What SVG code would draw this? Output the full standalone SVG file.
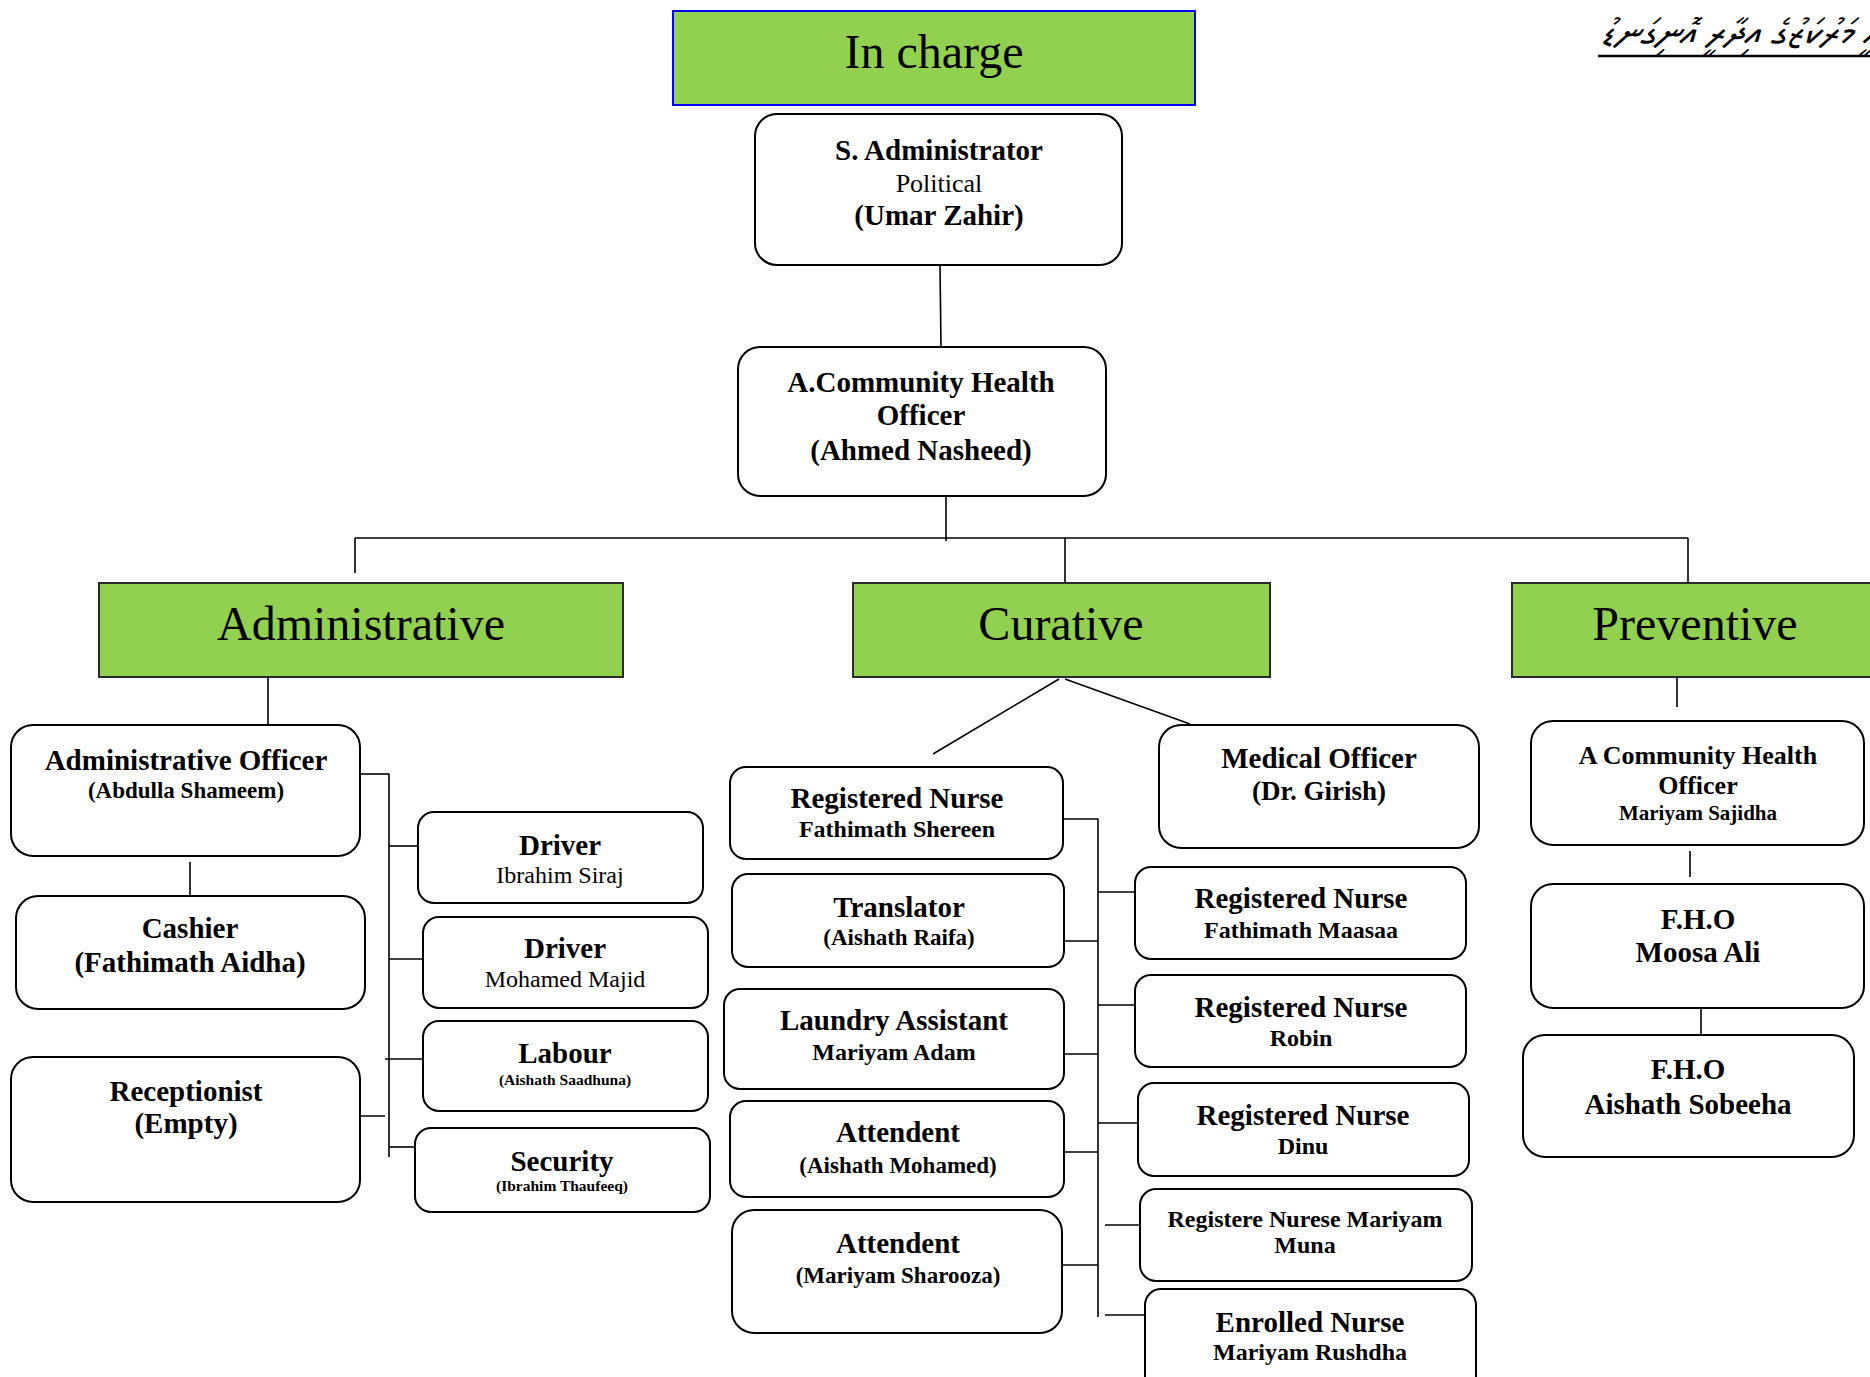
<svg xmlns="http://www.w3.org/2000/svg" width="1870" height="1377" viewBox="0 0 1870 1377">
<style>
.box{fill:#fff;stroke:#000;stroke-width:2}
.hdr{fill:#92D050;stroke:#2a2a2a;stroke-width:2}
.top{fill:#92D050;stroke:#0000FF;stroke-width:2}
.c{stroke:#000;stroke-width:1.6;fill:none}
text{font-family:"Liberation Serif","Times New Roman",serif;text-anchor:middle;fill:#000}
.h{font-size:48px}
.b29{font-size:29px;font-weight:bold}
.b27{font-size:27px;font-weight:bold}
.b26{font-size:26px;font-weight:bold}
.b24{font-size:24px;font-weight:bold}
.b23{font-size:23px;font-weight:bold}
.b21{font-size:21px;font-weight:bold}
.b15{font-size:15.5px;font-weight:bold}
.r26{font-size:26px}
.r24{font-size:24px}
.thaana{font-family:"Noto Sans Thaana","MV Boli","DejaVu Sans",sans-serif;font-size:38px;font-style:italic;text-anchor:start}
</style>

<g id="title">
<text class="thaana" x="1600" y="45">ސިއްޙީ މަރުކަޒުގެ އިދާރީ އޮނިގަނޑު</text>
<line x1="1598" y1="56" x2="1870" y2="56" stroke="#000" stroke-width="2.5"/>
</g>

<g id="connectors">
<line class="c" x1="940" y1="265" x2="941" y2="347"/>
<line class="c" x1="946" y1="496" x2="946" y2="541"/>
<line class="c" x1="355" y1="538" x2="1688" y2="538"/>
<line class="c" x1="355" y1="538" x2="355" y2="573"/>
<line class="c" x1="1065" y1="538" x2="1065" y2="583"/>
<line class="c" x1="1688" y1="538" x2="1688" y2="583"/>
<line class="c" x1="268" y1="677" x2="268" y2="725"/>
<line class="c" x1="190" y1="862" x2="190" y2="896"/>
<line class="c" x1="360" y1="774" x2="389" y2="774"/>
<line class="c" x1="389" y1="774" x2="389" y2="1157"/>
<line class="c" x1="389" y1="846" x2="418" y2="846"/>
<line class="c" x1="389" y1="959" x2="423" y2="959"/>
<line class="c" x1="385" y1="1059" x2="423" y2="1059"/>
<line class="c" x1="352" y1="1116" x2="385" y2="1116"/>
<line class="c" x1="389" y1="1147" x2="415" y2="1147"/>
<line class="c" x1="1059" y1="679" x2="933" y2="754"/>
<line class="c" x1="1065" y1="679" x2="1190" y2="724"/>
<line class="c" x1="1063" y1="819" x2="1098" y2="819"/>
<line class="c" x1="1098" y1="819" x2="1098" y2="1317"/>
<line class="c" x1="1064" y1="941" x2="1098" y2="941"/>
<line class="c" x1="1064" y1="1054" x2="1098" y2="1054"/>
<line class="c" x1="1064" y1="1152" x2="1098" y2="1152"/>
<line class="c" x1="1062" y1="1265" x2="1098" y2="1265"/>
<line class="c" x1="1098" y1="892" x2="1135" y2="892"/>
<line class="c" x1="1098" y1="1005" x2="1135" y2="1005"/>
<line class="c" x1="1098" y1="1123" x2="1138" y2="1123"/>
<line class="c" x1="1105" y1="1225" x2="1140" y2="1225"/>
<line class="c" x1="1105" y1="1315" x2="1145" y2="1315"/>
<line class="c" x1="1677" y1="677" x2="1677" y2="707"/>
<line class="c" x1="1690" y1="851" x2="1690" y2="877"/>
<line class="c" x1="1701" y1="1003" x2="1701" y2="1034"/>
</g>

<g id="in-charge">
<rect class="top" x="673" y="11" width="522" height="94"/>
<text class="h" x="934" y="68">In charge</text>
</g>

<g id="s-administrator">
<rect class="box" x="755" y="114" width="367" height="151" rx="22"/>
<text class="b29" x="939" y="160">S. Administrator</text>
<text class="r26" x="939" y="192">Political</text>
<text class="b29" x="939" y="225">(Umar Zahir)</text>
</g>

<g id="a-cho">
<rect class="box" x="738" y="347" width="368" height="149" rx="22"/>
<text class="b29" x="921" y="392">A.Community Health</text>
<text class="b29" x="921" y="425">Officer</text>
<text class="b29" x="921" y="460">(Ahmed Nasheed)</text>
</g>

<g id="administrative">
<rect class="hdr" x="99" y="583" width="524" height="94"/>
<text class="h" x="361" y="640">Administrative</text>
</g>

<g id="curative">
<rect class="hdr" x="853" y="583" width="417" height="94"/>
<text class="h" x="1061" y="640">Curative</text>
</g>

<g id="preventive">
<rect class="hdr" x="1512" y="583" width="370" height="94"/>
<text class="h" x="1695" y="640">Preventive</text>
</g>

<g id="admin-officer">
<rect class="box" x="11" y="725" width="349" height="131" rx="22"/>
<text class="b29" x="186" y="770">Administrative Officer</text>
<text class="b23" x="186" y="798">(Abdulla Shameem)</text>
</g>

<g id="cashier">
<rect class="box" x="16" y="896" width="349" height="113" rx="22"/>
<text class="b29" x="190" y="938">Cashier</text>
<text class="b29" x="190" y="972">(Fathimath Aidha)</text>
</g>

<g id="receptionist">
<rect class="box" x="11" y="1057" width="349" height="145" rx="22"/>
<text class="b29" x="186" y="1101">Receptionist</text>
<text class="b29" x="186" y="1133">(Empty)</text>
</g>

<g id="driver-1">
<rect class="box" x="418" y="812" width="285" height="91" rx="16"/>
<text class="b29" x="560" y="855">Driver</text>
<text class="r24" x="560" y="883">Ibrahim Siraj</text>
</g>

<g id="driver-2">
<rect class="box" x="423" y="917" width="285" height="91" rx="16"/>
<text class="b29" x="565" y="958">Driver</text>
<text class="r24" x="565" y="987">Mohamed Majid</text>
</g>

<g id="labour">
<rect class="box" x="423" y="1021" width="285" height="90" rx="16"/>
<text class="b29" x="565" y="1063">Labour</text>
<text class="b15" x="565" y="1085">(Aishath  Saadhuna)</text>
</g>

<g id="security">
<rect class="box" x="415" y="1128" width="295" height="84" rx="16"/>
<text class="b29" x="562" y="1171">Security</text>
<text class="b15" x="562" y="1191">(Ibrahim Thaufeeq)</text>
</g>

<g id="medical-officer">
<rect class="box" x="1159" y="725" width="320" height="123" rx="22"/>
<text class="b29" x="1319" y="768">Medical Officer</text>
<text class="b27" x="1319" y="800">(Dr. Girish)</text>
</g>

<g id="rn-fathimath-shereen">
<rect class="box" x="730" y="767" width="333" height="92" rx="16"/>
<text class="b29" x="897" y="808">Registered Nurse</text>
<text class="b24" x="897" y="837">Fathimath Shereen</text>
</g>

<g id="translator">
<rect class="box" x="732" y="874" width="332" height="93" rx="16"/>
<text class="b29" x="899" y="917">Translator</text>
<text class="b23" x="899" y="945">(Aishath Raifa)</text>
</g>

<g id="laundry-assistant">
<rect class="box" x="724" y="989" width="340" height="100" rx="16"/>
<text class="b29" x="894" y="1030">Laundry Assistant</text>
<text class="b24" x="894" y="1060">Mariyam Adam</text>
</g>

<g id="attendent-1">
<rect class="box" x="730" y="1101" width="334" height="96" rx="16"/>
<text class="b29" x="898" y="1142">Attendent</text>
<text class="b23" x="898" y="1173">(Aishath Mohamed)</text>
</g>

<g id="attendent-2">
<rect class="box" x="732" y="1210" width="330" height="123" rx="22"/>
<text class="b29" x="898" y="1253">Attendent</text>
<text class="b23" x="898" y="1283">(Mariyam Sharooza)</text>
</g>

<g id="rn-fathimath-maasaa">
<rect class="box" x="1135" y="867" width="331" height="92" rx="16"/>
<text class="b29" x="1301" y="908">Registered Nurse</text>
<text class="b24" x="1301" y="938">Fathimath Maasaa</text>
</g>

<g id="rn-robin">
<rect class="box" x="1135" y="975" width="331" height="92" rx="16"/>
<text class="b29" x="1301" y="1017">Registered Nurse</text>
<text class="b24" x="1301" y="1046">Robin</text>
</g>

<g id="rn-dinu">
<rect class="box" x="1138" y="1083" width="331" height="93" rx="16"/>
<text class="b29" x="1303" y="1125">Registered Nurse</text>
<text class="b24" x="1303" y="1154">Dinu</text>
</g>

<g id="rn-mariyam-muna">
<rect class="box" x="1140" y="1189" width="332" height="92" rx="16"/>
<text class="b24" x="1305" y="1227">Registere Nurese Mariyam</text>
<text class="b24" x="1305" y="1253">Muna</text>
</g>

<g id="enrolled-nurse">
<rect class="box" x="1145" y="1289" width="331" height="104" rx="16"/>
<text class="b29" x="1310" y="1332">Enrolled Nurse</text>
<text class="b24" x="1310" y="1360">Mariyam Rushdha</text>
</g>

<g id="prev-acho">
<rect class="box" x="1531" y="721" width="333" height="124" rx="22"/>
<text class="b26" x="1698" y="764">A Community Health</text>
<text class="b26" x="1698" y="794">Officer</text>
<text class="b21" x="1698" y="820">Mariyam Sajidha</text>
</g>

<g id="fho-moosa-ali">
<rect class="box" x="1531" y="884" width="333" height="124" rx="22"/>
<text class="b29" x="1698" y="929">F.H.O</text>
<text class="b29" x="1698" y="962">Moosa Ali</text>
</g>

<g id="fho-aishath-sobeeha">
<rect class="box" x="1523" y="1035" width="331" height="122" rx="22"/>
<text class="b29" x="1688" y="1079">F.H.O</text>
<text class="b29" x="1688" y="1114">Aishath Sobeeha</text>
</g>
</svg>
